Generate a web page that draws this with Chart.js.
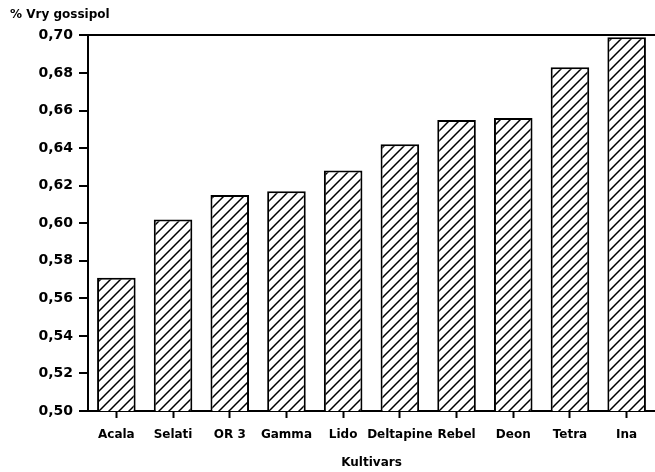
<!DOCTYPE html>
<html>
<head>
<meta charset="utf-8">
<script src="https://cdn.jsdelivr.net/npm/chart.js@4/dist/chart.umd.min.js"></script>
<style>
html,body{margin:0;padding:0;background:#fff;}
canvas{display:block;}
</style>
</head>
<body>
<canvas id="c" width="655" height="472"></canvas>
<script>
const categories = ["Acala", "Selati", "OR 3", "Gamma", "Lido", "Deltapine", "Rebel", "Deon", "Tetra", "Ina"];
const gossypolValues = [0.571, 0.602, 0.615, 0.617, 0.628, 0.642, 0.655, 0.656, 0.683, 0.699];
const yTitle = "% Vry gossipol";
const xTitle = "Kultivars";
const yMin = 0.50, yMax = 0.70, yStep = 0.02;

function hatch() {
  const s = 10;
  const p = document.createElement('canvas');
  p.width = s; p.height = s;
  const g = p.getContext('2d');
  g.fillStyle = '#fff';
  g.fillRect(0, 0, s, s);
  g.strokeStyle = '#000';
  g.lineWidth = 1.5;
  g.beginPath();
  g.moveTo(-2, s + 2); g.lineTo(s + 2, -2);
  g.moveTo(-2, 2); g.lineTo(2, -2);
  g.moveTo(s - 2, s + 2); g.lineTo(s + 2, s - 2);
  g.stroke();
  return document.getElementById('c').getContext('2d').createPattern(p, 'repeat');
}

const font = 'DejaVu Sans';
new Chart(document.getElementById('c'), {
  type: 'bar',
  data: {
    labels: categories,
    datasets: [{
      data: gossypolValues,
      backgroundColor: hatch(),
      borderColor: '#000',
      borderWidth: 2,
      borderSkipped: false,
      barPercentage: 0.68,
      categoryPercentage: 1
    }]
  },
  options: {
    responsive: false,
    animation: false,
    layout: { padding: { left: 10, right: 0, top: 0, bottom: 0 } },
    plugins: {
      legend: { display: false },
      tooltip: { enabled: false },
      title: {
        display: true,
        text: yTitle,
        align: 'start',
        color: '#000',
        font: { family: font, weight: 'bold', size: 12 },
        padding: { top: 8, bottom: 13 }
      }
    },
    scales: {
      x: {
        grid: { display: true, drawOnChartArea: false, offset: false, tickLength: 7, tickColor: '#000', tickWidth: 2 },
        border: { display: true, color: '#000', width: 2 },
        ticks: { color: '#000', padding: 10, maxRotation: 0, autoSkip: false, font: { family: font, weight: 'bold', size: 12 } },
        title: { display: true, text: xTitle, color: '#000', font: { family: font, weight: 'bold', size: 12 }, padding: { top: 4, bottom: 2 } },
        afterFit: s => { s.height = 61; }
      },
      y: {
        min: yMin, max: yMax,
        grid: {
          drawOnChartArea: true,
          tickLength: 9,
          tickWidth: 2,
          tickColor: '#000',
          lineWidth: 2,
          color: c => (c.tick && Math.abs(c.tick.value - yMax) < 1e-9) ? '#000' : 'rgba(0,0,0,0)'
        },
        border: { display: true, color: '#000', width: 2 },
        ticks: {
          stepSize: yStep,
          color: '#000',
          padding: 6,
          font: { family: font, weight: 'bold', size: 14 },
          callback: v => Number(v).toFixed(2).replace('.', ',')
        },
        afterFit: s => { s.width = 78; }
      }
    }
  }
});
</script>
</body>
</html>
